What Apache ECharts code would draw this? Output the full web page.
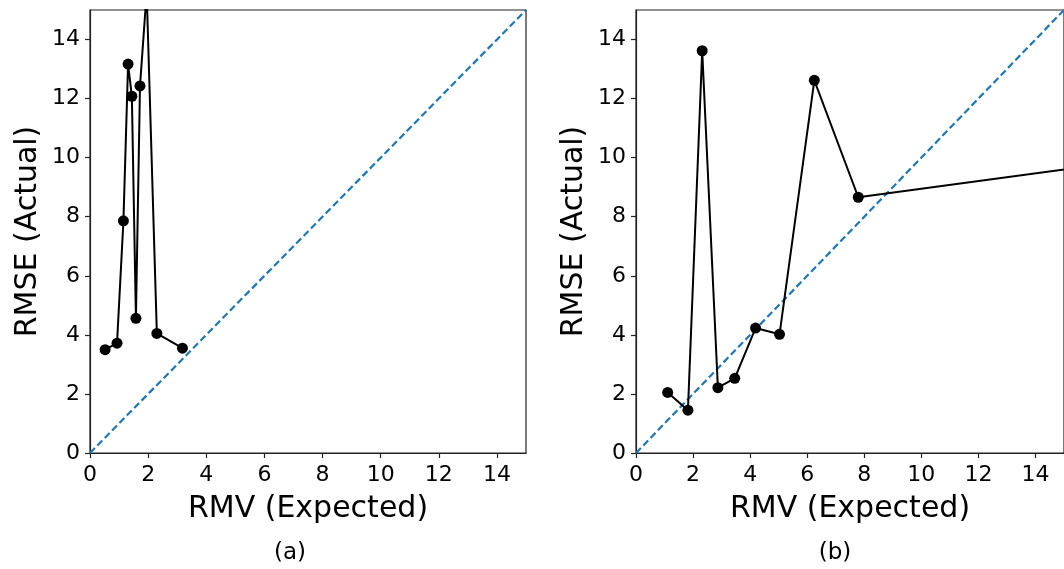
<!DOCTYPE html>
<html>
<head>
<meta charset="utf-8">
<script src="https://cdn.jsdelivr.net/npm/echarts@6/dist/echarts.min.js"></script>
<style>
html,body{margin:0;padding:0;background:#fff;}
#chart{width:1064px;height:569px;}
</style>
</head>
<body>
<div id="chart"></div>
<script>
// Panel (a)
var leftX = [0.52, 0.93, 1.15, 1.31, 1.44, 1.58, 1.72, 1.95, 2.30, 3.18];
var leftY = [3.50, 3.72, 7.86, 13.17, 12.08, 4.56, 12.43, 15.6, 4.05, 3.55];
// Panel (b)
var rightX = [1.11, 1.82, 2.32, 2.87, 3.46, 4.19, 5.03, 6.25, 7.79, 16.0];
var rightY = [2.05, 1.45, 13.62, 2.21, 2.53, 4.23, 4.02, 12.62, 8.66, 9.73];
// Reference diagonal
var diagX = [0, 15];
var diagY = [0, 15];
var tickValues = [0, 2, 4, 6, 8, 10, 12, 14];
var xTitle = 'RMV (Expected)';
var yTitle = 'RMSE (Actual)';
var panelLabels = ['(a)', '(b)'];

function pairs(xs, ys) { return xs.map(function (x, i) { return [x, ys[i]]; }); }

var FONT = 'DejaVu Sans';
function mkX(gi) {
  return {
    type: 'value', gridIndex: gi, min: 0, max: 15, interval: 2,
    name: xTitle, nameLocation: 'middle', nameGap: 41,
    nameTextStyle: { fontFamily: FONT, fontSize: 30, color: '#000' },
    axisLine: { show: true, onZero: false, lineStyle: { color: '#222', width: 1.2 } },
    axisTick: { show: true, inside: false, length: 5, lineStyle: { color: '#222', width: 1.2 } },
    axisLabel: { fontFamily: FONT, fontSize: 22, color: '#000', margin: 11, showMaxLabel: false,
      formatter: function (v) { return tickValues.indexOf(v) >= 0 ? String(v) : ''; } },
    splitLine: { show: false }
  };
}
function mkY(gi) {
  return {
    type: 'value', gridIndex: gi, min: 0, max: 15, interval: 2,
    name: yTitle, nameLocation: 'middle', nameGap: 47,
    nameTextStyle: { fontFamily: FONT, fontSize: 30, color: '#000' },
    axisLine: { show: true, onZero: false, lineStyle: { color: '#222', width: 1.2 } },
    axisTick: { show: true, inside: false, length: 5, lineStyle: { color: '#222', width: 1.2 } },
    axisLabel: { fontFamily: FONT, fontSize: 22, color: '#000', margin: 10, showMaxLabel: false,
      formatter: function (v) { return tickValues.indexOf(v) >= 0 ? String(v) : ''; } },
    splitLine: { show: false }
  };
}
function diag(gi) {
  return {
    type: 'line', xAxisIndex: gi, yAxisIndex: gi, data: pairs(diagX, diagY),
    symbol: 'none', silent: true, clip: true, z: 2,
    lineStyle: { color: '#1f77b4', width: 2.2, type: [7, 3.5] }
  };
}
function dataSeries(gi, xs, ys) {
  return {
    type: 'line', xAxisIndex: gi, yAxisIndex: gi, data: pairs(xs, ys),
    symbol: 'circle', symbolSize: 11, showAllSymbol: true, clip: true, z: 3,
    lineStyle: { color: '#000', width: 2 },
    itemStyle: { color: '#000', borderWidth: 0 }
  };
}

var chart = echarts.init(document.getElementById('chart'), null, { renderer: 'canvas' });
chart.setOption({
  backgroundColor: '#fff',
  animation: false,
  title: [
    { text: panelLabels[0], left: 285, top: 537, textAlign: 'center',
      textStyle: { fontFamily: FONT, fontSize: 23, fontWeight: 'normal', color: '#000' } },
    { text: panelLabels[1], left: 830, top: 537, textAlign: 'center',
      textStyle: { fontFamily: FONT, fontSize: 23, fontWeight: 'normal', color: '#000' } }
  ],
  grid: [
    { left: 90, top: 10, width: 436, height: 443, show: true, borderColor: '#222', borderWidth: 1.2, backgroundColor: 'transparent' },
    { left: 636, top: 10, width: 436, height: 443, show: true, borderColor: '#222', borderWidth: 1.2, backgroundColor: 'transparent' }
  ],
  xAxis: [mkX(0), mkX(1)],
  yAxis: [mkY(0), mkY(1)],
  series: [
    diag(0), dataSeries(0, leftX, leftY),
    diag(1), dataSeries(1, rightX, rightY)
  ]
});
</script>
</body>
</html>
